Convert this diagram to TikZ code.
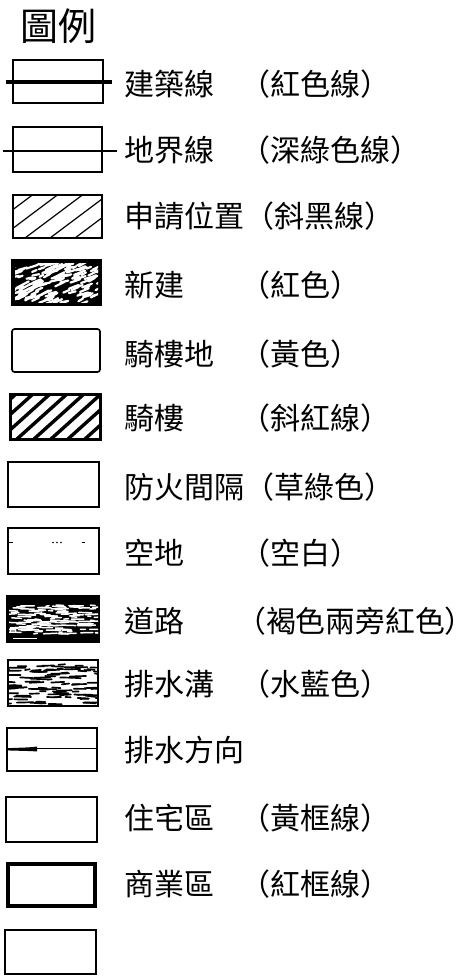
\documentclass[tikz,border=0pt]{standalone}
\usepackage{fontspec}
\newfontfamily\cjk{Noto Sans CJK TC}
\begin{document}
\begin{tikzpicture}[x=1pt,y=-1pt,
  lbl/.style={anchor=west,inner sep=0pt,font=\cjk\fontsize{30}{30}\selectfont},
  ttl/.style={anchor=west,inner sep=0pt,font=\cjk\fontsize{38}{38}\selectfont},
  box/.style={draw=black,line width=1.6pt},
  hatchthin/.style={line width=1.2pt},
  hatchthick/.style={line width=3.4pt},
  speck/.style={line width=2.2pt,line cap=round}]
\useasboundingbox (0,0) rectangle (476,978);
\pgfmathsetseed{7}
\def\lx{124}
\def\px{240}
% title
\node[ttl] (title) at (20,26) {圖例};
% row 1: building line
\draw[box] (13,60) rectangle (103,103);
\draw[line width=3.6pt] (6,82) -- (112,82);
\node[lbl] (l1) at (\lx,84) {建築線};
\node[lbl] (p1) at (\px,84) {（紅色線）};
% row 2: boundary line
\draw[box] (13,127) rectangle (102,172);
\draw[line width=2.2pt] (3,151) -- (117,151);
\node[lbl] (l2) at (\lx,150) {地界線};
\node[lbl] (p2) at (\px,150) {（深綠色線）};
% row 3: application position
\begin{scope}
\clip (13,195) rectangle (102,238);
\foreach \k in {-1,...,4}
  \draw[hatchthin] (\k*25,238) -- ++(80,-60);
\end{scope}
\draw[box] (13,195) rectangle (102,238);
\node[lbl] (l3) at (\lx,216) {申請位置};
\node[lbl] (p3) at (\px+4,216) {（斜黑線）};
% row 4: new building
\fill[black] (12,260) rectangle (101,305);
\begin{scope}
\clip (15,263) rectangle (98,302);
\foreach \i in {1,...,150}{
  \pgfmathsetmacro\xa{8+90*rnd}
  \pgfmathsetmacro\ya{263+41*rnd}
  \pgfmathsetmacro\ln{3+9*rnd}
  \pgfmathsetmacro\dy{-0.2*\ln-0.4*\ln*rnd}
  \draw[white,speck] (\xa,\ya) -- ++(\ln,\dy);
}
\end{scope}
\draw[box] (12,260) rectangle (101,305);
\node[lbl] (l4) at (\lx,285) {新建};
\node[lbl] (p4) at (\px,285) {（紅色）};
% row 5: arcade land
\draw[box,rounded corners=2.5pt] (12,329) rectangle (100,372);
\node[lbl] (l5) at (\lx,354) {騎樓地};
\node[lbl] (p5) at (\px,354) {（黃色）};
% row 6: arcade
\begin{scope}
\clip (10,394) rectangle (100,439);
\foreach \k in {-3,...,6}
  \draw[hatchthick] (\k*17,439) -- ++(60,-54);
\end{scope}
\draw[draw=black,line width=3pt] (10,394) rectangle (100,439);
\node[lbl] (l6) at (\lx,418) {騎樓};
\node[lbl] (p6) at (\px,418) {（斜紅線）};
% row 7: fire separation
\draw[box] (8,462) rectangle (99,507);
\node[lbl] (l7) at (\lx,487) {防火間隔};
\node[lbl] (p7) at (\px+4,487) {（草綠色）};
% row 8: open space
\draw[box] (8,528) rectangle (99,574);
\draw[line width=1pt] (9,542) -- (13,542);
\fill (53,542.5) circle (0.8) (57,542.5) circle (0.8) (61,542.5) circle (0.8);
\draw[line width=1pt] (82,542) -- (85,542);
\node[lbl] (l8) at (\lx,553) {空地};
\node[lbl] (p8) at (\px,553) {（空白）};
% row 9: road
\fill[black] (6,595) rectangle (100,643);
\begin{scope}
\clip (9,604) rectangle (98,634);
\foreach \i in {1,...,130}{
  \pgfmathsetmacro\xa{4+92*rnd}
  \pgfmathsetmacro\ya{605+29*rnd}
  \pgfmathsetmacro\ln{3+12*rnd}
  \pgfmathsetmacro\dy{-0.6+1.2*rnd}
  \draw[white,line width=1.5pt,line cap=round] (\xa,\ya) -- ++(\ln,\dy);
}
\end{scope}
\draw[white,line width=1pt] (10.5,627.5) rectangle (15,632);
\draw[white,line width=1pt] (13,638) -- (37,638);
\node[lbl] (l9) at (\lx,621) {道路};
\node[lbl,font=\cjk\fontsize{29.8}{30}\selectfont] (p9) at (236,621) {（褐色兩旁紅色）};
% row 10: drainage ditch
\begin{scope}
\clip (8,660) rectangle (98,706);
\foreach \i in {1,...,95}{
  \pgfmathsetmacro\xa{2+94*rnd}
  \pgfmathsetmacro\ya{663+41*rnd}
  \pgfmathsetmacro\ln{4+14*rnd}
  \pgfmathsetmacro\dy{-0.8+1.6*rnd}
  \draw[black,line width=1.7pt,line cap=round] (\xa,\ya) -- ++(\ln,\dy);
}
\end{scope}
\draw[box,line width=2pt] (8,660) rectangle (98,706);
\node[lbl] (l10) at (\lx,684) {排水溝};
\node[lbl] (p10) at (\px,684) {（水藍色）};
% row 11: drainage direction
\draw[box] (7,728) rectangle (97,771);
\draw[line width=1.6pt] (7,748.6) -- (97,748.6);
\fill (7,748.2) -- (28,747.4) -- (37,746.6) -- (37,751.4) -- (28,751) -- (7,750.4) -- cycle;
\node[lbl] (l11) at (\lx,750) {排水方向};
% row 12: residential zone
\draw[box] (6,797) rectangle (97,842);
\node[lbl] (l12) at (\lx,818) {住宅區};
\node[lbl] (p12) at (\px,818) {（黃框線）};
% row 13: commercial zone
\draw[draw=black,line width=4.5pt] (8,864) rectangle (95,906);
\node[lbl] (l13) at (\lx,884) {商業區};
\node[lbl] (p13) at (\px,884) {（紅框線）};
% row 14: blank
\draw[box] (5,930) rectangle (96,974);
\end{tikzpicture}
\end{document}
